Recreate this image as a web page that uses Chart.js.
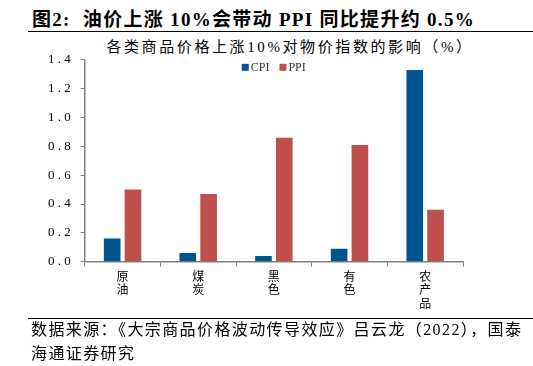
<!DOCTYPE html>
<html><head><meta charset="utf-8">
<script src="https://cdn.jsdelivr.net/npm/chart.js@4"></script>
<style>
html,body{margin:0;padding:0;background:#fff;width:533px;height:366px;overflow:hidden;position:relative;font-family:"Liberation Serif","Noto Sans CJK SC",serif;}
#title{position:absolute;left:32px;top:4px;font-size:19px;font-weight:bold;color:#000;white-space:nowrap;letter-spacing:1.3px;}
#line1{position:absolute;left:28px;right:0;top:31px;border-top:1.5px solid #000;}
#sub{position:absolute;left:0;width:580px;text-align:center;top:35px;font-size:15px;color:#000;white-space:nowrap;letter-spacing:2.6px;}
#line2{position:absolute;left:28px;right:0;top:318px;border-top:1.5px solid #000;}
#foot{position:absolute;left:31px;top:318px;font-size:16px;line-height:24px;color:#000;white-space:nowrap;letter-spacing:1.4px;}
#wrap{position:absolute;left:0;top:42px;width:533px;height:278px;}
</style></head>
<body>
<div id="title">图2:&nbsp; 油价上涨 10%会带动 PPI 同比提升约 0.5%</div>
<div id="line1"></div>
<div id="sub">各类商品价格上涨10%对物价指数的影响（%）</div>
<div id="wrap"><canvas id="c" width="533" height="278"></canvas></div>
<div id="line2"></div>
<div id="foot">数据来源：《大宗商品价格波动传导效应》吕云龙（2022），国泰<br>海通证券研究</div>
<script>
const categories = [["原","油"],["煤","炭"],["黑","色"],["有","色"],["农","产","品"]];
const seriesNames = ["CPI","PPI"];
const cpiValues = [0.16, 0.06, 0.04, 0.09, 1.33];
const ppiValues = [0.50, 0.47, 0.86, 0.81, 0.36];
const yTicks = [0,0.2,0.4,0.6,0.8,1.0,1.2,1.4];
const colors = ["#02548F","#C0504D"];

const legendPlugin = {
  id:'customLegend',
  afterDraw(chart){
    const ctx = chart.ctx;
    const a = chart.chartArea;
    let x = a.left + 157, y = a.top + 8;
    ctx.save();
    ctx.font = '12px "Liberation Serif"';
    ctx.textBaseline = 'middle';
    seriesNames.forEach((n,i)=>{
      ctx.fillStyle = colors[i];
      ctx.fillRect(x, y-4, 7, 7);
      ctx.fillStyle = '#333';
      ctx.fillText(n, x+9, y);
      x += 9 + ctx.measureText(n).width + 10;
    });
    ctx.restore();
  }
};

new Chart(document.getElementById('c'), {
  type:'bar',
  data:{
    labels: categories,
    datasets:[
      {label:seriesNames[0], data:cpiValues, backgroundColor:colors[0], barPercentage:0.8, categoryPercentage:0.55},
      {label:seriesNames[1], data:ppiValues, backgroundColor:colors[1], barPercentage:0.8, categoryPercentage:0.55}
    ]
  },
  options:{
    responsive:false, animation:false,
    layout:{padding:{left:38,right:70,top:15,bottom:7}},
    plugins:{legend:{display:false}, tooltip:{enabled:false}, title:{display:false}},
    scales:{
      x:{
        grid:{display:true, drawOnChartArea:false, drawTicks:true, tickLength:5, color:'#808080', offset:true},
        border:{display:true,color:'#808080',width:1.5},
        ticks:{color:'#000', font:{size:12, family:'"Noto Sans CJK SC"', lineHeight:1.12}, padding:3, maxRotation:0, autoSkip:false}
      },
      y:{
        min:0, max:1.4,
        afterBuildTicks(axis){ axis.ticks = yTicks.map(v=>({value:v})); },
        grid:{display:true, drawOnChartArea:false, drawTicks:true, tickLength:4, color:'#808080'},
        border:{display:true,color:'#808080',width:1.5},
        ticks:{color:'#000', font:{size:13, family:'"Liberation Serif"'}, padding:10, callback:v=>v.toFixed(1).split('').join(' ')}
      }
    }
  },
  plugins:[legendPlugin]
});
</script>
</body></html>
